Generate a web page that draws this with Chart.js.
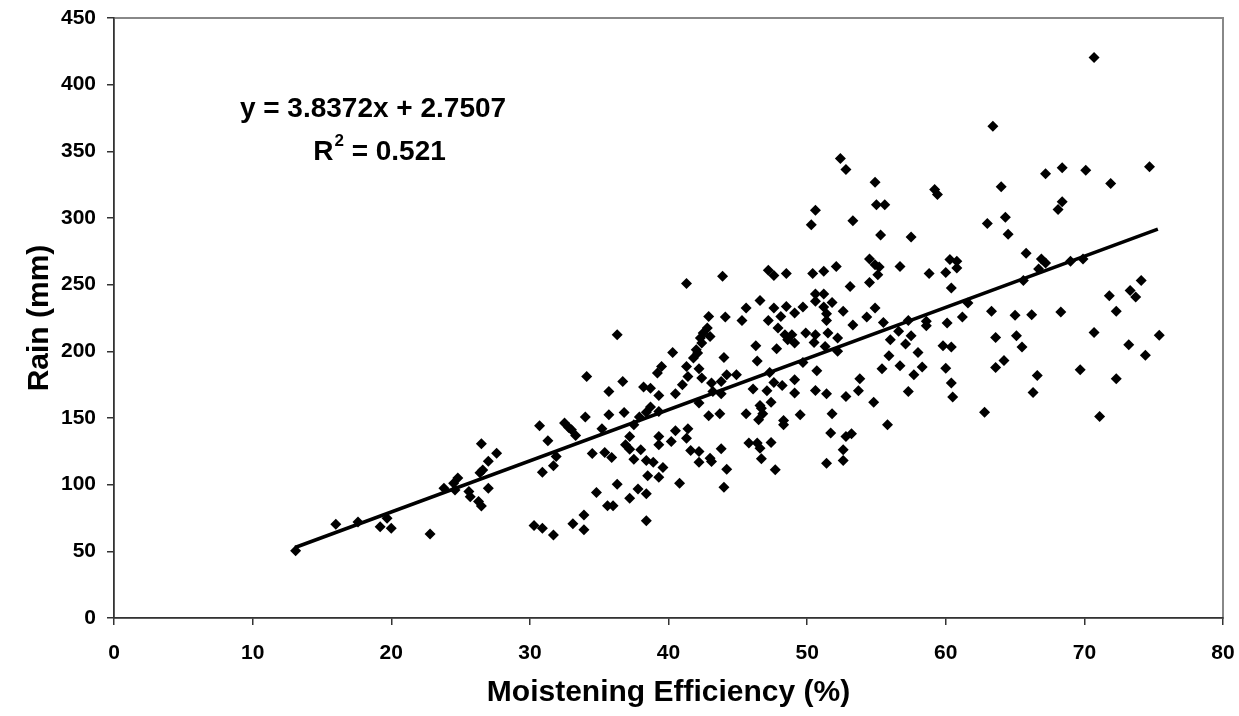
<!DOCTYPE html>
<html>
<head>
<meta charset="utf-8">
<script src="https://cdn.jsdelivr.net/npm/chart.js@4"></script>
<style>
  html, body { margin: 0; padding: 0; background: #fff; }
  #wrap { width: 1239px; height: 716px; }
</style>
</head>
<body>
<div id="wrap"><canvas id="scatter"></canvas></div>
<script>
// moistening efficiency (%) and rain (mm)
var effVals = [
  13.1, 16.0, 17.6, 19.2, 19.7, 20.0, 22.8, 23.8, 24.5, 24.8, 24.6, 25.6, 25.7, 26.3, 26.5, 26.5, 27.6, 27.0, 26.4, 26.6, 27.0,
  36.3, 34.1, 36.7, 35.7, 38.2, 38.7, 39.2, 39.3, 30.7, 31.3, 32.5, 32.8, 33.0, 33.3, 34.0, 35.7, 36.8, 35.2, 37.5, 37.9,
  38.4, 38.7, 39.3, 37.2, 36.9, 37.2, 38.0, 37.5, 38.4, 38.9, 39.3, 39.3, 38.5, 39.3, 31.9, 31.7, 30.9, 34.5, 35.4, 35.9,
  36.3, 34.8, 35.6, 36.0, 37.2, 37.8, 38.4, 38.4, 30.3, 30.9, 31.7, 33.1, 33.9, 33.9,
  41.3, 43.9, 47.2, 47.6, 48.5, 46.6, 45.6, 47.6, 48.5, 49.1, 42.9, 44.1, 45.3, 47.2, 48.1, 47.9, 48.4, 48.9, 48.6, 49.1,
  42.8, 42.5, 42.3, 42.0, 41.8, 43.0, 42.4, 42.1, 40.3, 44.0, 46.3, 47.8, 46.4, 39.5, 41.3, 42.2, 41.4, 42.4, 41.0, 40.5,
  43.1, 44.2, 44.9, 43.8, 43.8, 43.2, 46.1, 47.1, 47.3, 47.6, 48.2, 49.1, 49.1, 46.6, 47.4, 42.2,
  42.9, 43.7, 45.6, 46.7, 46.8, 46.5, 48.3, 48.3, 49.5, 40.5, 41.4, 40.2, 41.3, 41.6, 42.2, 42.2, 43.0, 43.1, 43.8, 44.2,
  44.0, 39.6, 40.8, 45.8, 46.4, 46.6, 47.4, 46.7, 47.7,
  52.4, 52.8, 54.9, 59.2, 59.4, 55.0, 55.6, 50.6, 50.3, 53.3, 55.3, 57.5, 50.4, 51.2, 52.1, 54.5, 54.9, 55.2, 55.1, 56.7,
  58.8, 53.1, 54.5, 50.6, 51.2, 50.6, 51.8, 49.7, 51.2, 51.4, 51.4, 52.6, 54.9, 54.3, 53.3, 55.5, 57.3, 58.6, 58.6,
  49.9, 50.6, 50.5, 51.5, 52.2, 51.3, 52.2, 49.7, 50.7, 53.8, 50.6, 51.4, 52.8, 53.7, 54.8, 51.8, 51.7, 52.8, 53.2, 52.6,
  51.4, 52.6, 55.8, 56.0, 56.6, 57.5, 57.1, 58.0, 55.9, 56.7, 55.4, 58.3, 57.7, 57.3,
  63.4, 67.2, 68.4, 64.0, 68.4, 68.1, 64.3, 63.0, 64.5, 65.8, 66.9, 67.2, 66.7, 69.0, 60.3, 60.8, 60.0, 60.8, 60.4, 65.6,
  63.3, 65.0, 66.2, 68.3, 60.1, 61.2, 63.6, 65.1, 65.5, 60.4, 64.2, 63.6, 60.0, 60.4, 60.5, 66.6, 66.3, 62.8, 69.7, 61.6,
  59.8,
  70.7, 70.1, 71.9, 74.7, 69.9, 74.1, 73.3, 73.7, 71.8, 72.3, 70.7, 75.4, 73.2, 74.4, 72.3, 71.1
];
var rainVals = [
  50.5, 70.3, 72.0, 68.5, 74.8, 67.3, 63.0, 97.4, 101.0, 105.0, 96.0, 94.8, 91.0, 87.3, 84.0, 130.6, 123.6, 117.6, 109.0, 111.0, 97.4,
  212.5, 181.2, 177.4, 169.9, 173.2, 172.4, 183.7, 166.9, 144.1, 132.9, 146.2, 142.9, 141.1, 136.9, 150.7, 152.4, 154.1, 141.9, 144.9, 150.7,
  154.4, 158.2, 154.9, 136.1, 129.9, 126.6, 126.1, 119.1, 118.1, 116.9, 129.9, 136.1, 106.6, 105.6, 121.1, 114.1, 109.4, 123.4, 124.1, 120.4,
  100.4, 94.1, 84.1, 84.1, 89.9, 96.8, 93.1, 73.0, 69.3, 67.3, 62.3, 70.6, 77.3, 66.1,
  250.8, 256.3, 260.8, 256.8, 258.3, 238.2, 232.5, 232.5, 233.7, 228.7, 226.2, 225.7, 223.2, 223.2, 226.2, 217.5, 212.5, 212.5, 208.7, 206.2,
  217.5, 213.7, 210.0, 201.2, 195.0, 211.2, 206.2, 198.7, 199.2, 195.4, 204.2, 202.0, 192.7, 188.7, 188.7, 186.9, 181.2, 180.0, 175.0, 168.2,
  176.2, 182.4, 182.4, 177.4, 168.2, 169.9, 171.7, 170.4, 184.2, 176.7, 174.4, 178.7, 168.7, 159.4, 161.9, 161.2,
  151.7, 153.2, 153.2, 157.4, 153.2, 148.6, 148.1, 144.9, 152.4, 140.4, 141.9, 132.4, 134.9, 125.6, 124.8, 116.9, 119.9, 117.3, 126.9, 111.6,
  98.1, 112.8, 101.1, 131.2, 131.2, 127.4, 131.6, 119.4, 111.1,
  344.6, 336.3, 326.8, 321.3, 317.6, 310.0, 310.0, 305.8, 295.0, 298.0, 287.3, 285.8, 258.3, 260.0, 263.7, 269.3, 265.0, 263.3, 257.5, 263.7,
  258.3, 248.7, 251.7, 243.0, 243.0, 237.5, 236.7, 233.3, 233.3, 228.2, 223.2, 230.0, 232.5, 225.7, 219.7, 221.7, 223.2, 222.5, 219.2,
  213.7, 212.5, 206.7, 213.7, 210.0, 203.7, 200.0, 191.7, 185.4, 179.4, 170.6, 168.2, 166.1, 170.4, 161.9, 153.2, 138.7, 136.1, 138.1, 126.1,
  116.1, 118.1, 144.9, 208.7, 215.0, 211.7, 205.5, 199.2, 196.7, 189.2, 186.9, 188.2, 182.4, 169.9,
  368.8, 333.1, 337.6, 323.4, 312.1, 306.3, 300.5, 295.8, 287.8, 273.5, 269.3, 266.3, 261.8, 267.5, 268.8, 267.5, 259.2, 262.5, 247.5, 253.2,
  230.0, 227.0, 227.5, 229.5, 221.2, 225.7, 210.4, 211.7, 203.2, 203.2, 193.2, 187.9, 187.4, 176.2, 165.7, 181.9, 169.1, 154.4, 186.2, 236.3,
  204.2,
  420.4, 335.8, 325.8, 338.4, 269.3, 253.2, 245.7, 240.8, 241.7, 230.0, 214.2, 212.0, 205.0, 197.0, 179.4, 151.1
];

// linear trend shown on the chart
var slope = 3.8372;
var intercept = 2.7507;
var trendFrom = 13.06;
var trendTo = 75.3;

var xTickStep = 10;
var yTickStep = 50;

var equationText = 'y = 3.8372x + 2.7507';
var rSquaredText = '0.521';

var points = effVals.map(function (x, i) { return { x: x, y: rainVals[i] }; });
var trend = [
  { x: trendFrom, y: slope * trendFrom + intercept },
  { x: trendTo, y: slope * trendTo + intercept }
];

var FONT = "'Liberation Sans', Arial, sans-serif";

// gray frame round the plot area (left and bottom get drawn over by the axes)
var frame = {
  id: 'frame',
  beforeDraw: function (chart) {
    var a = chart.chartArea, c = chart.ctx;
    c.save();
    c.strokeStyle = '#888';
    c.lineWidth = 2;
    c.strokeRect(a.left, a.top, a.right - a.left, a.bottom - a.top);
    c.restore();
  }
};

// regression text in the upper left
var eqLabel = {
  id: 'eqLabel',
  afterDraw: function (chart) {
    var c = chart.ctx;
    c.save();
    c.fillStyle = '#000';
    c.textBaseline = 'alphabetic';
    c.font = 'bold 28px ' + FONT;
    c.textAlign = 'center';
    c.fillText(equationText, 373, 117);

    // R² line with a raised 2
    c.textAlign = 'left';
    var big = 'bold 28px ' + FONT, small = 'bold 17px ' + FONT;
    c.font = big; var wR = c.measureText('R').width;
    c.font = small; var w2 = c.measureText('2').width;
    c.font = big; var wRest = c.measureText(' = ' + rSquaredText).width;
    var x0 = 379 - (wR + w2 + wRest) / 2;
    c.fillText('R', x0, 160);
    c.font = small; c.fillText('2', x0 + wR + 1, 146);
    c.font = big; c.fillText(' = ' + rSquaredText, x0 + wR + w2 + 1, 160);
    c.restore();
  }
};

var ctx = document.getElementById('scatter').getContext('2d');
var chart = new Chart(ctx, {
  type: 'scatter',
  data: {
    datasets: [{
      label: 'Rain',
      data: points,
      pointStyle: 'rectRot',
      pointRadius: 5.5,
      pointHoverRadius: 5.5,
      backgroundColor: '#000',
      borderColor: '#000',
      borderWidth: 0
    }, {
      type: 'line',
      label: 'Linear',
      data: trend,
      borderColor: '#000',
      borderWidth: 3.5,
      pointRadius: 0,
      fill: false
    }]
  },
  options: {
    responsive: true,
    maintainAspectRatio: false,
    animation: false,
    layout: { padding: { top: 18, right: 16, left: 0, bottom: 0 } },
    plugins: {
      legend: { display: false },
      tooltip: { enabled: false }
    },
    scales: {
      x: {
        type: 'linear',
        min: 0,
        max: 80,
        afterFit: function (s) { s.height = 98; s.paddingLeft = 0; s.paddingRight = 0; },
        ticks: { stepSize: xTickStep, color: '#000', padding: 16, font: { family: FONT, size: 21, weight: 'bold' } },
        grid: { drawOnChartArea: false, drawTicks: true, tickLength: 7, color: '#333', lineWidth: 1.5 },
        border: { color: '#333', width: 1.5 },
        title: {
          display: true,
          text: 'Moistening Efficiency (%)',
          color: '#000',
          padding: { top: 0, bottom: 5 },
          font: { family: FONT, size: 30, weight: 'bold' }
        }
      },
      y: {
        min: 0,
        max: 450,
        afterFit: function (s) { s.width = 114; s.paddingTop = 0; s.paddingBottom = 0; },
        ticks: { stepSize: yTickStep, color: '#000', padding: 11, font: { family: FONT, size: 21, weight: 'bold' } },
        grid: { drawOnChartArea: false, drawTicks: true, tickLength: 7, color: '#333', lineWidth: 1.5 },
        border: { color: '#333', width: 1.5 },
        title: {
          display: true,
          text: 'Rain (mm)',
          color: '#000',
          padding: { top: 22, bottom: 0 },
          font: { family: FONT, size: 30, weight: 'bold' }
        }
      }
    }
  },
  plugins: [frame, eqLabel]
});
</script>
</body>
</html>
